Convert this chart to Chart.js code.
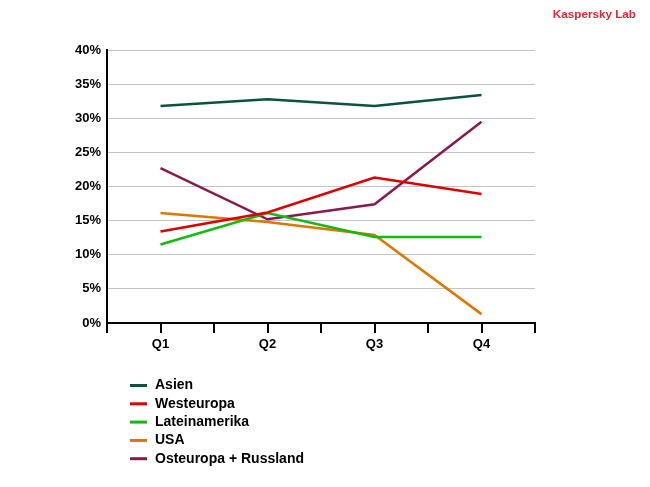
<!DOCTYPE html>
<html>
<head>
<meta charset="utf-8">
<script src="https://cdn.jsdelivr.net/npm/chart.js@4"></script>
<style>
  html, body { margin: 0; padding: 0; background: #fff; }
  #wrap { width: 650px; height: 487px; }
</style>
</head>
<body>
<div id="wrap"><canvas id="chart" width="650" height="487"></canvas></div>
<script>
// Quarter labels and shares (percent) per region
const QUARTERS = ['Q1', 'Q2', 'Q3', 'Q4'];
const ASIEN = [31.8, 32.8, 31.8, 33.4];
const WESTEUROPA = [13.4, 16.2, 21.3, 18.9];
const LATEINAMERIKA = [11.5, 16.1, 12.6, 12.6];
const USA = [16.1, 14.8, 12.9, 1.3];
const OSTEUROPA = [22.7, 15.2, 17.4, 29.5];

const FONT = '"Liberation Sans", Arial, sans-serif';

function series(label, values, color) {
    return {
        label: label,
        data: values.map((v, i) => ({ x: i, y: v })),
        borderColor: color,
        backgroundColor: color,
        borderWidth: 2.5,
        pointRadius: 0,
        tension: 0
    };
}

// Vertical legend under the plot plus the brand text at the top
const extras = {
    id: 'extras',
    afterDraw(chart) {
        const ctx = chart.ctx;
        ctx.save();
        ctx.font = 'bold 11.7px ' + FONT;
        ctx.fillStyle = '#ee2233';
        ctx.textAlign = 'right';
        ctx.textBaseline = 'middle';
        ctx.fillText('Kaspersky Lab', 636, 15);

        ctx.font = 'bold 14px ' + FONT;
        ctx.textAlign = 'left';
        chart.data.datasets.forEach((ds, i) => {
            const y = 385.5 + i * 18.3;
            ctx.strokeStyle = ds.borderColor;
            ctx.lineWidth = 3;
            ctx.beginPath();
            ctx.moveTo(130, y);
            ctx.lineTo(147, y);
            ctx.stroke();
            ctx.fillStyle = '#000';
            ctx.fillText(ds.label, 155, y);
        });
        ctx.restore();
    }
};

new Chart(document.getElementById('chart'), {
    type: 'line',
    data: {
        datasets: [
            series('Asien', ASIEN, '#0b5242'),
            series('Westeuropa', WESTEUROPA, '#dd0000'),
            series('Lateinamerika', LATEINAMERIKA, '#11bb11'),
            series('USA', USA, '#dd7700'),
            series('Osteuropa + Russland', OSTEUROPA, '#8a1a4c')
        ]
    },
    options: {
        responsive: false,
        animation: false,
        layout: { padding: { left: 0, right: 115, top: 50, bottom: 0 } },
        plugins: {
            legend: { display: false },
            tooltip: { enabled: false }
        },
        scales: {
            x: {
                type: 'linear',
                min: -0.5,
                max: 3.5,
                afterFit(scale) { scale.height = 164; },
                ticks: {
                    stepSize: 0.5,
                    autoSkip: false,
                    maxRotation: 0,
                    padding: 4,
                    color: '#000',
                    font: { family: FONT, size: 13, weight: 'bold' },
                    callback: v => Number.isInteger(v) ? QUARTERS[v] : ''
                },
                grid: {
                    drawOnChartArea: false,
                    color: '#000',
                    lineWidth: 2,
                    tickLength: 10
                },
                border: { color: '#000', width: 2 }
            },
            y: {
                min: 0,
                max: 40,
                afterFit(scale) { scale.width = 107; },
                ticks: {
                    stepSize: 5,
                    padding: 6,
                    color: '#000',
                    font: { family: FONT, size: 13, weight: 'bold' },
                    callback: v => v + '%'
                },
                grid: {
                    color: '#c4c4c4',
                    lineWidth: 1,
                    tickLength: 0
                },
                border: { color: '#000', width: 2 }
            }
        }
    },
    plugins: [extras]
});
</script>
</body>
</html>
